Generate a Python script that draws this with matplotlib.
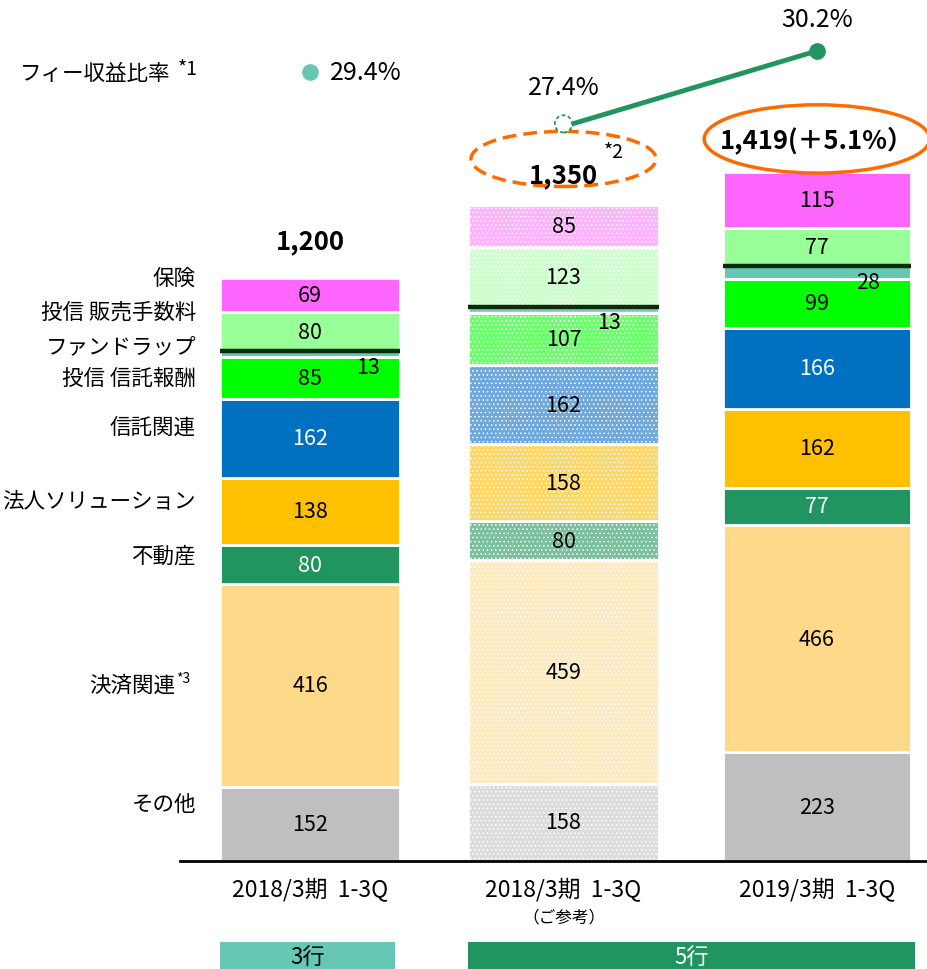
import matplotlib
matplotlib.use("Agg")
import matplotlib.pyplot as plt
from matplotlib.patches import Ellipse, Rectangle
import numpy as np

plt.rcParams['font.family'] = ['Noto Sans CJK JP', 'DejaVu Sans']
plt.rcParams['hatch.linewidth'] = 0.6

# segments from bottom to top
segments = ["その他", "決済関連", "不動産", "法人ソリューション", "信託関連",
            "投信 信託報酬", "ファンドラップ", "投信 販売手数料", "保険"]
periods = ["2018/3期  1-3Q", "2018/3期  1-3Q", "2019/3期  1-3Q"]
fy18_3banks = [152, 416, 80, 138, 162, 85, 13, 80, 69]
fy18_5banks = [158, 459, 80, 158, 162, 107, 13, 123, 85]
fy19_5banks = [223, 466, 77, 162, 166, 99, 28, 77, 115]
totals = [1200, 1350, 1419]
total_labels = ["1,200", "1,350", "1,419(＋5.1%）"]
fee_ratio = [29.4, 27.4, 30.2]

colors = ["#BFBFBF", "#FFD98A", "#21955F", "#FFC000", "#0070C0",
          "#00FF00", "#66C8B4", "#99FF99", "#FF66FF"]
# lighter versions for the reference column
light_colors = ["#DCDCDC", "#FFEAC0", "#7BBF9C", "#FFD766", "#6EA8DC",
                "#6CFF6C", "#7CD0BE", "#CCFFCC", "#FFB2FF"]
white_text = {0: [2, 4], 1: [], 2: [2, 4]}

fig = plt.figure(figsize=(9.27, 9.70), dpi=100)
ax = fig.add_axes([0, 0, 1, 1])
ax.set_xlim(-1.223, 2.434)
ax.set_ylim(-221.5, 1768)
ax.axis("off")

data = [fy18_3banks, fy18_5banks, fy19_5banks]
widths = [0.71, 0.75, 0.74]
label_offsets = {0: (42, -9), 1: (33, -9), 2: (37, -7)}

for i, vals in enumerate(data):
    bottom = 0
    for j, v in enumerate(vals):
        if i == 1:
            ax.bar(i, v, bottom=bottom, width=widths[i], color=light_colors[j],
                   edgecolor="white", linewidth=2, hatch="....")
        else:
            ax.bar(i, v, bottom=bottom, width=widths[i], color=colors[j],
                   edgecolor="white", linewidth=2)
        tc = "white" if j in white_text[i] else "black"
        if j == 6:
            ax.annotate(str(v), (i, bottom + v / 2), xytext=label_offsets[i],
                        textcoords="offset points", ha="center", va="center",
                        fontsize=15.5, color=tc)
            # separator above the fund wrap segment
            ax.plot([i - widths[i] / 2, i + widths[i] / 2], [bottom + v, bottom + v],
                    color="#0B2B0B", linewidth=3.2, solid_capstyle="butt", zorder=5)
        else:
            ax.text(i, bottom + v / 2, str(v), ha="center", va="center",
                    fontsize=15.5, color=tc)
        bottom += v

# totals
total_offsets = [72, 57, 62]
for i, t in enumerate(total_labels):
    ax.text(i, totals[i] + total_offsets[i], t, ha="center", va="center",
            fontsize=18.5, fontweight="bold")
ax.text(1.2, 1456, "*2", ha="center", va="center", fontsize=14)
ax.add_patch(Ellipse((1.0, 1440), 0.73, 113, fill=False, edgecolor="#FF6A00",
                     linewidth=2.5, linestyle=(0, (4, 2))))
ax.add_patch(Ellipse((2.0, 1481), 0.89, 140, fill=False, edgecolor="#FF6A00",
                     linewidth=2.5))

# category labels on the left
label_y = [117, 361, 627, 738, 891, 990, 1053, 1126, 1195]
for name, y in zip(segments, label_y):
    if name == "決済関連":
        ax.text(-0.53, y, name, ha="right", va="center", fontsize=15.5)
        ax.text(-0.528, y + 14, "*3", ha="left", va="center", fontsize=10)
    else:
        ax.text(-0.45, y, name, ha="right", va="center", fontsize=15.5)

# baseline and period labels
ax.plot([-0.513, 2.434], [0, 0], color="black", linewidth=2)
for i, p in enumerate(periods):
    ax.text(i, -57, p, ha="center", va="center", fontsize=16.5)
ax.text(1, -115, "（ご参考）", ha="center", va="center", fontsize=12)

# bank group bands
ax.add_patch(Rectangle((-0.355, -221.5), 0.69, 56, facecolor="#66C8B4", edgecolor="none"))
ax.text(-0.01, -198, "3行", ha="center", va="center", fontsize=16)
ax.add_patch(Rectangle((0.623, -221.5), 1.764, 56, facecolor="#21955F", edgecolor="none"))
ax.text(1.505, -198, "5行", ha="center", va="center", fontsize=16, color="white")

# fee income ratio
ax2 = ax.twinx()
ax2.set_ylim(-5.01, 32.19)
ax2.axis("off")
ax2.plot([1.035, 2], fee_ratio[1:], color="#21955F", linewidth=3.5)
ax2.add_patch(Ellipse((1, fee_ratio[1]), 0.068, 0.66, facecolor="white",
                      edgecolor="#21955F", linewidth=1.3, linestyle=(0, (2, 1.5)),
                      zorder=4))
ax2.plot(2, fee_ratio[2], marker="o", markersize=11, color="#21955F")
ax2.plot(0, fee_ratio[0], marker="o", markersize=11, color="#66C8B4")
ax2.text(0.08, fee_ratio[0], f"{fee_ratio[0]}%", ha="left", va="center", fontsize=18)
ax2.text(1, fee_ratio[1] + 1.42, f"{fee_ratio[1]}%", ha="center", va="center", fontsize=18)
ax2.text(2, fee_ratio[2] + 1.23, f"{fee_ratio[2]}%", ha="center", va="center", fontsize=18)
ax.text(-1.145, 1617, "フィー収益比率", ha="left", va="center", fontsize=15.5)
ax.text(-0.52, 1625, "*1", ha="left", va="center", fontsize=14)

fig.savefig("out.png", dpi=100)
